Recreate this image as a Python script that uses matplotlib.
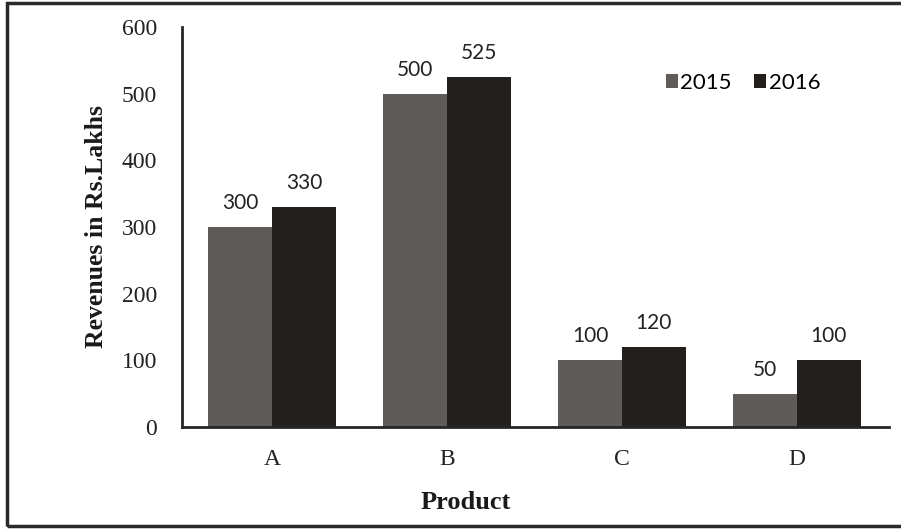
import matplotlib
matplotlib.use("Agg")
import matplotlib.pyplot as plt
import numpy as np
from matplotlib.patches import Rectangle

products = ["A", "B", "C", "D"]
rev_2015 = [300, 500, 100, 50]
rev_2016 = [330, 525, 120, 100]
series_names = ["2015", "2016"]
yticks = [0, 100, 200, 300, 400, 500, 600]

plt.rcParams['font.family'] = ['Liberation Serif', 'DejaVu Serif']
sans = ['Lato', 'DejaVu Sans']

fig = plt.figure(figsize=(9.01, 5.29), dpi=100)
ax = fig.add_axes([182 / 901, 102 / 529, 707 / 901, 400 / 529])

x = np.arange(len(products))
w = 0.365
b1 = ax.bar(x - w / 2, rev_2015, w, color='#5f5b59', label=series_names[0])
b2 = ax.bar(x + w / 2, rev_2016, w, color='#231f1c', label=series_names[1])

# value labels above bars
for bars in (b1, b2):
    for rect in bars:
        h = rect.get_height()
        ax.annotate(f"{h:g}", (rect.get_x() + rect.get_width() / 2, h),
                    xytext=(0, 10), textcoords='offset points',
                    ha='center', va='bottom', fontsize=15, color='#222222',
                    family=sans)

ax.set_xlim(-0.514, 3.526)
ax.set_ylim(0, 600)
ax.set_xticks(x)
ax.set_xticklabels(products)
ax.set_yticks(yticks)
ax.tick_params(axis='both', length=0, labelsize=17, colors='#222222')
ax.tick_params(axis='x', pad=16)
ax.tick_params(axis='y', pad=18)

for s in ['top', 'right']:
    ax.spines[s].set_visible(False)
for s in ['left', 'bottom']:
    ax.spines[s].set_color('#262626')
    ax.spines[s].set_linewidth(2)

ax.set_xlabel("Product", fontsize=19, fontweight='bold', color='#1a1a1a')
ax.xaxis.set_label_coords((466 - 182) / 707, -0.16)
ax.set_ylabel("Revenues in Rs.Lakhs", fontsize=18.5, fontweight='bold', color='#1a1a1a')
ax.yaxis.set_label_coords(-0.105, 0.5)

leg = ax.legend(loc='center left', bbox_to_anchor=((666 - 182) / 707, (427 - 83) / 400),
                ncol=2, frameon=False, handlelength=0.55, handleheight=0.55,
                handletextpad=0.1, columnspacing=1.0, borderaxespad=0, borderpad=0,
                prop={'family': sans, 'size': 16})

# outer frame
fig.patches.append(Rectangle((7 / 901, 3 / 529), 1.2, 523 / 529, transform=fig.transFigure,
                             fill=False, edgecolor='#2a2a2a', linewidth=2.5))

fig.savefig("out.png", dpi=100)
